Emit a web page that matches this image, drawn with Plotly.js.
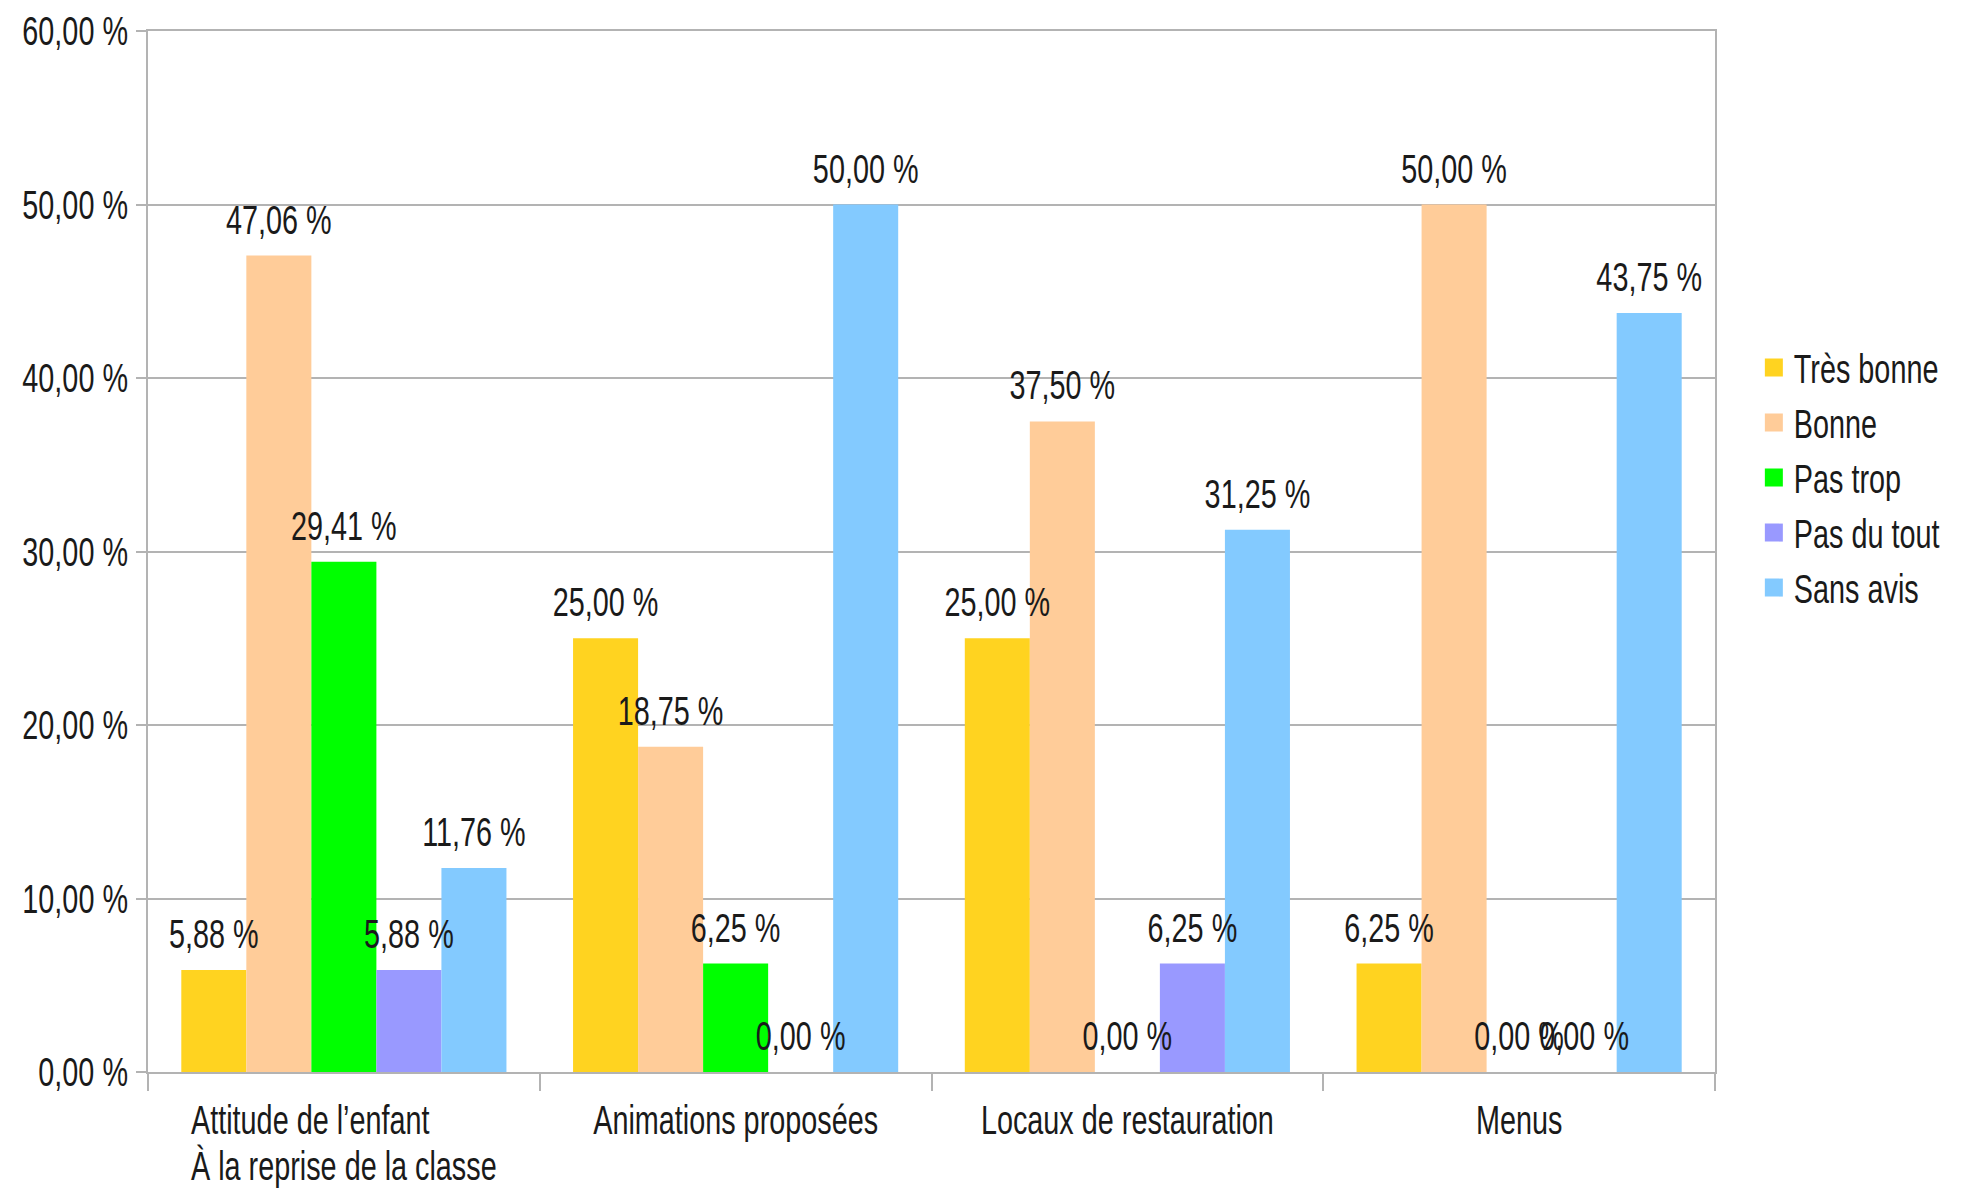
<!DOCTYPE html>
<html>
<head>
<meta charset="utf-8">
<script src="https://cdn.plot.ly/plotly-3.0.1.min.js"></script>
<style>
  html, body { margin: 0; padding: 0; background: #ffffff; }
  #chart { width: 1964px; height: 1188px; }
</style>
</head>
<body>
<div id="chart"></div>
<script>
const categories = [
  "Attitude de l’enfant<br>À la reprise de la classe",
  "Animations proposées",
  "Locaux de restauration",
  "Menus"
];
const seriesNames = ["Très bonne", "Bonne", "Pas trop", "Pas du tout", "Sans avis"];
const tresBonne = [5.88, 25.00, 25.00, 6.25];
const bonne     = [47.06, 18.75, 37.50, 50.00];
const pasTrop   = [29.41, 6.25, 0.00, 0.00];
const pasDuTout = [5.88, 0.00, 6.25, 0.00];
const sansAvis  = [11.76, 50.00, 31.25, 43.75];
const seriesColors = ["#ffd320", "#ffcc99", "#00ff00", "#9999ff", "#83caff"];

const seriesValues = [tresBonne, bonne, pasTrop, pasDuTout, sansAvis];
const FONT = "'Liberation Sans', Arial, sans-serif";
const FS = 40;
const SQUEEZE = 0.72;   // the reference uses a very narrow face
const TXT = "#1a1a1a";

const traces = seriesValues.map((vals, i) => ({
  type: "bar",
  name: seriesNames[i],
  x: categories,
  y: vals,
  marker: { color: seriesColors[i], line: { width: 0 } },
  texttemplate: "%{y:.2f} %",
  textposition: "outside",
  constraintext: "none",
  cliponaxis: false,
  textfont: { family: FONT, size: FS, color: TXT },
  hoverinfo: "skip"
}));

const layout = {
  width: 1964,
  height: 1188,
  paper_bgcolor: "#ffffff",
  plot_bgcolor: "#ffffff",
  separators: ", ",
  font: { family: FONT, size: FS, color: TXT },
  margin: { l: 148, r: 249, t: 31, b: 116, pad: 0 },
  barmode: "group",
  bargap: 0.17,
  bargroupgap: 0,
  showlegend: true,
  legend: {
    xref: "container", yref: "container",
    x: 0.893, xanchor: "left",
    y: 0.598, yanchor: "middle",
    font: { family: FONT, size: FS, color: TXT },
    bgcolor: "rgba(0,0,0,0)",
    borderwidth: 0
  },
  xaxis: {
    type: "category",
    automargin: false,
    tickangle: 0,
    showline: true,
    linecolor: "#b3b3b3",
    linewidth: 2,
    mirror: true,
    ticks: "outside",
    tickson: "boundaries",
    ticklen: 17,
    tickcolor: "#b3b3b3",
    tickwidth: 2,
    ticklabelstandoff: 12,
    showgrid: false,
    tickfont: { family: FONT, size: FS, color: TXT }
  },
  yaxis: {
    automargin: false,
    range: [0, 60],
    dtick: 10,
    tick0: 0,
    tickformat: ".2f",
    ticksuffix: " %",
    showline: true,
    linecolor: "#b3b3b3",
    linewidth: 2,
    mirror: true,
    ticks: "outside",
    ticklen: 10,
    tickcolor: "#b3b3b3",
    tickwidth: 2,
    showgrid: true,
    gridcolor: "#b3b3b3",
    gridwidth: 2,
    zeroline: false,
    tickfont: { family: FONT, size: FS, color: TXT }
  }
};

const SVGNS = "http://www.w3.org/2000/svg";

function finishLook(gd) {
  // value labels drawn above every bar (as in the reference)
  const barlayer = gd.querySelector(".barlayer");
  if (barlayer) {
    const topG = document.createElementNS(SVGNS, "g");
    topG.setAttribute("class", "labels-top");
    barlayer.appendChild(topG);
    barlayer.querySelectorAll("text.bartext").forEach(t => topG.appendChild(t));
  }

  gd.querySelectorAll("svg.main-svg text").forEach(t => {
    // tighter line spacing for multi-line category labels
    const lines = t.querySelectorAll("tspan.line");
    if (t.closest(".xtick") && lines.length > 1) {
      lines.forEach((l, k) => { if (k > 0) l.setAttribute("dy", "1.15em"); });
    }

    let bb;
    try { bb = t.getBBox(); } catch (e) { return; }
    if (!bb || bb.width === 0) return;
    const anchor = t.getAttribute("text-anchor") || getComputedStyle(t).textAnchor || "start";
    let ax = bb.x + bb.width / 2;
    if (anchor === "start") ax = bb.x;
    else if (anchor === "end") ax = bb.x + bb.width;

    // multi-line category label: lines left-aligned like the reference
    if (t.closest(".xtick") && lines.length > 1) {
      ax = bb.x + bb.width / 2;
      t.setAttribute("text-anchor", "start");
      t.style.textAnchor = "start";
      lines.forEach(l => l.setAttribute("x", bb.x));
    }

    let prev = t.getAttribute("transform") || "";
    if (t.classList.contains("bartext")) prev = "translate(0,-11) " + prev;
    t.setAttribute("transform", (prev + " translate(" + ax + ",0) scale(" + SQUEEZE + ",1) translate(" + (-ax) + ",0)").trim());
  });

  gd.querySelectorAll(".legendpoints path").forEach(p => {
    const prev = p.getAttribute("transform") || "";
    p.setAttribute("transform", (prev + " scale(1.5)").trim());
  });
}

Plotly.newPlot("chart", traces, layout, { displayModeBar: false, staticPlot: true })
  .then(gd => finishLook(gd));
</script>
</body>
</html>
